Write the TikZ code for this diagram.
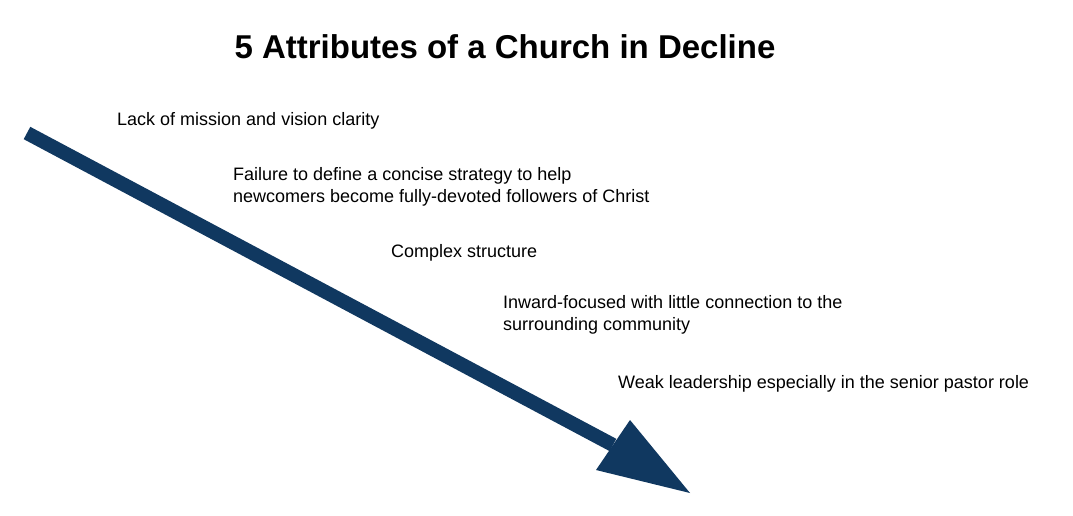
\documentclass[tikz,border=0pt]{standalone}
\usepackage{fontspec}
\setmainfont{Liberation Sans}
\begin{document}
\begin{tikzpicture}[x=1pt,y=-1pt,
  lbl/.style={anchor=west,font=\fontsize{18}{22}\selectfont,align=left,inner sep=0pt}]
\definecolor{navy}{RGB}{16,56,96}
\useasboundingbox[fill=white] (0,0) rectangle (1073,515);
\node[font=\bfseries\fontsize{33}{38}\selectfont] (title) at (505,47) {5 Attributes of a Church in Decline};
\coordinate (s) at (27,133);
\coordinate (b) at (613,445);
\coordinate (tip) at (690,493);
\coordinate (h1) at (596,470);
\coordinate (h2) at (630,420);
\draw[navy,line width=14] (s) -- (b);
\fill[navy] (h1) -- (h2) -- (tip) -- cycle;
\node[lbl] (t1) at (117,121) {Lack of mission and vision clarity};
\node[lbl] (t2) at (233,187) {Failure to define a concise strategy to help\\newcomers become fully-devoted followers of Christ};
\node[lbl] (t3) at (391,253) {Complex structure};
\node[lbl] (t4) at (503,315) {Inward-focused with little connection to the\\surrounding community};
\node[lbl] (t5) at (618,384) {Weak leadership especially in the senior pastor role};
\end{tikzpicture}
\end{document}
